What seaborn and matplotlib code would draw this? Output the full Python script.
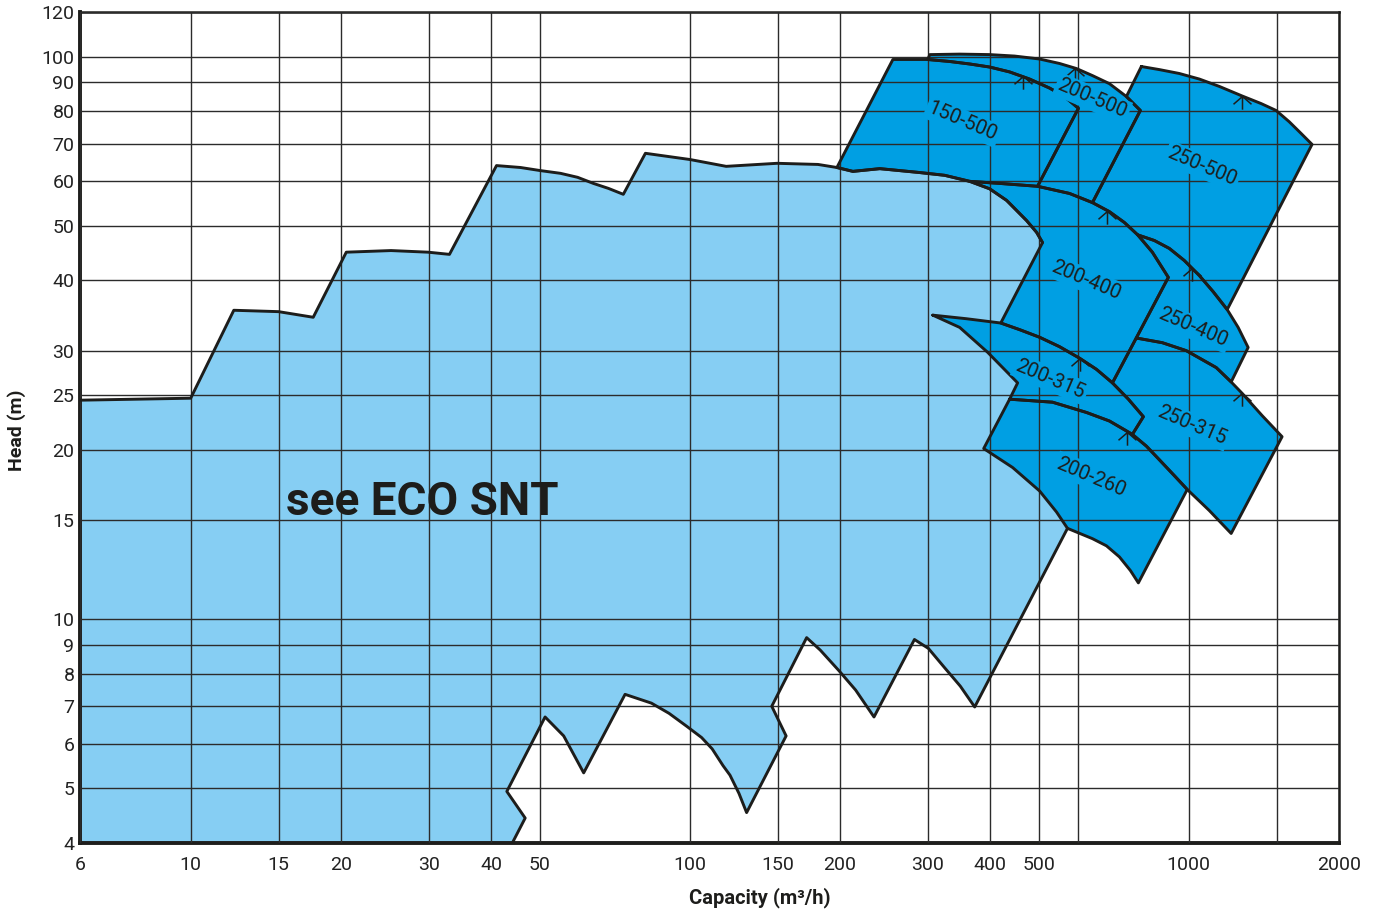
import matplotlib
matplotlib.use("Agg")
import matplotlib.pyplot as plt
from matplotlib.path import Path
from matplotlib.ticker import FixedLocator, FixedFormatter, NullFormatter, NullLocator
import seaborn as sns

# axis ticks / grid
x_ticks = [6, 10, 15, 20, 30, 40, 50, 100, 150, 200, 300, 400, 500, 1000, 2000]
x_extra_grid = [600, 1500]
y_ticks = [4, 5, 6, 7, 8, 9, 10, 15, 20, 25, 30, 40, 50, 60, 70, 80, 90, 100, 120]

# light blue area (see ECO SNT): top and bottom outline
eco_top_q = [6, 10, 12.2, 15.0, 17.6, 20.5, 25.2, 29.9, 33.0, 41.0, 45.8, 50.2, 55.1, 59.6, 64.1,
             68.7, 73.6, 81.5, 100.2, 118.3, 149.6, 180.7, 197.2, 212.3, 240.4, 289.1, 324.3, 364,
             399, 431.5, 473.2, 495.5, 509.3]
eco_top_h = [24.5, 24.7, 35.4, 35.2, 34.4, 44.9, 45.2, 44.9, 44.5, 64.0, 63.5, 62.7, 62.0, 61.0, 59.5,
             58.3, 56.9, 67.3, 65.6, 63.8, 64.6, 64.3, 63.5, 62.5, 63.2, 62.2, 61.5, 60.0,
             58.2, 55.5, 51.1, 48.7, 46.7]
eco_bot_q = [571.4, 372.4, 348.5, 324, 300.8, 282, 234, 215, 199, 182.6, 171.5, 146, 156, 130,
             125.5, 120.4, 116.6, 110.9, 105.6, 98.6, 90.9, 83.8, 74.2, 61.3, 55.9, 51.3, 43.0,
             46.8, 44.1]
eco_bot_h = [14.5, 6.98, 7.60, 8.2, 8.87, 9.2, 6.7, 7.48, 8.1, 8.81, 9.27, 7.0, 6.2, 4.53,
             4.90, 5.28, 5.49, 5.88, 6.16, 6.45, 6.80, 7.09, 7.35, 5.33, 6.20, 6.7, 4.94,
             4.43, 4.0]

# pump curves (capacity m3/h, head m)
top_150_500 = ([255.3, 299.9, 331.9, 363.9, 399, 437.5, 479.7, 526, 563.6, 601],
               [98.8, 98.8, 98.0, 97.0, 95.8, 93.9, 91.2, 87.9, 84.9, 80.9])
top_200_500 = ([302.7, 347.5, 399, 447.7, 502.3, 550.8, 595.7, 641.2, 693.4, 749.9, 799.8],
               [100.8, 101.0, 100.8, 100.2, 99.0, 97.2, 95.2, 92.5, 89.5, 84.9, 80.2])
top_250_500 = ([803.5, 873, 957.2, 1050, 1151, 1279, 1396, 1496, 1589, 1679, 1766],
               [96.0, 94.8, 93.3, 91.2, 88.5, 85.1, 82.5, 80.2, 76.6, 73.0, 69.8])
top_200_400 = ([364, 417.8, 497.7, 576.8, 641.2, 693.4, 743.0, 790, 845.3, 910],
               [60.0, 59.5, 58.8, 57.1, 55.0, 53.0, 50.7, 48.2, 44.9, 40.5])
top_250_400 = ([790, 853.1, 914.1, 979.5, 1050, 1119, 1194, 1256, 1315],
               [48.2, 47.1, 45.6, 43.4, 40.8, 38.2, 35.5, 33.0, 30.4])
top_200_315 = ([306.9, 358, 420, 458.2, 502.3, 550.8, 603.9, 653.1, 703.1, 756.8, 811],
               [34.7, 34.2, 33.6, 32.7, 31.7, 30.5, 29.1, 27.8, 26.3, 24.6, 22.9])
left_200_315 = ([306.9, 347.5, 395.4, 454], [34.7, 33.0, 29.8, 26.3])
top_250_315 = ([785, 885.1, 989, 1135, 1216, 1279, 1403, 1538],
               [31.6, 31.0, 30.0, 28.0, 26.4, 25.2, 23.0, 21.1])
top_200_260 = ([437.5, 533.3, 623.7, 693.4, 770.9, 822.4, 873, 935.4, 993],
               [24.6, 24.3, 23.3, 22.5, 21.3, 20.3, 19.2, 18.0, 17.0])
bot_200_260 = ([388.2, 443.6, 502.3, 543.3, 571.4, 641.2, 683.9, 726.1, 763.9, 792.5],
               [20.1, 18.6, 16.9, 15.5, 14.5, 13.9, 13.5, 12.9, 12.2, 11.6])
bot_250_315 = ([993, 1099, 1216], [17.0, 15.6, 14.2])

# best efficiency markers and pump size labels
bep_q = [464.5, 592.9, 1279, 687, 1016, 604, 1279, 753.5]
bep_h = [92.2, 95.3, 85.1, 53.2, 42.0, 29.1, 25.2, 21.5]
pump_names = ["150-500", "200-500", "250-500", "200-400", "250-400", "200-315", "250-315", "200-260"]
label_q = [352.4, 641.2, 1064, 623.7, 1021, 528.4, 1016, 638.3]
label_h = [76.6, 84.2, 63.8, 40.0, 33.0, 26.7, 22.1, 17.9]

LIGHT = "#86CEF3"
DARK = "#009FE3"
INK = "#1d1d1b"


def part(curve, qa, qb):
    # points of a curve between qa and qb, in the direction qa -> qb
    pts = [(q, h) for q, h in zip(*curve) if min(qa, qb) <= q <= max(qa, qb)]
    return pts if qa <= qb else pts[::-1]


def pts(curve):
    return list(zip(*curve))


eco_top = (eco_top_q, eco_top_h)

tiles = [
    part(eco_top, 197.2, 197.2) + pts(top_150_500) + part(top_200_400, 497.7, 364) + part(eco_top, 364, 212.3),
    [(299.9, 98.8)] + pts(top_200_500) + part(top_200_400, 641.2, 497.7) + part(top_150_500, 601, 300),
    pts(top_250_500) + part(top_250_400, 1194, 790) + part(top_200_400, 790, 641.2) + part(top_200_500, 799.8, 749.9),
    pts(top_200_400) + part(top_200_315, 703.1, 420) + part(eco_top, 509.3, 364),
    pts(top_250_400) + part(top_250_315, 1216, 785) + part(top_200_400, 910, 845.3),
    pts(top_200_315) + part(top_200_260, 770.9, 437.5) + part(left_200_315, 454, 347.5),
    pts(top_200_260) + part(bot_200_260, 792.5, 388.2),
    pts(top_250_315) + part(bot_250_315, 1216, 993) + part(top_200_260, 873, 770.9) + part(top_200_315, 811, 703.1),
]

sns.set_theme(style="white")
plt.rcParams["font.family"] = ["Roboto", "DejaVu Sans"]

fig = plt.figure(figsize=(13.81, 9.14), dpi=100)
ax = fig.add_axes([80 / 1381, 71 / 914, 1259 / 1381, 831 / 914])
ax.set_xscale("log")
ax.set_yscale("log")
ax.set_xlim(6, 2000)
ax.set_ylim(4, 120)

# light blue region
ax.fill([6] + eco_top_q + eco_bot_q, [4] + eco_top_h + eco_bot_h, color=LIGHT, lw=0, zorder=1)
sns.lineplot(x=eco_top_q, y=eco_top_h, sort=False, estimator=None, color=INK, lw=2.1, zorder=3, ax=ax)
sns.lineplot(x=eco_bot_q, y=eco_bot_h, sort=False, estimator=None, color=INK, lw=2.1, zorder=3, ax=ax)

# dark pump tiles
for tile in tiles:
    q = [p[0] for p in tile]
    h = [p[1] for p in tile]
    ax.fill(q, h, color=DARK, lw=0, zorder=1.2)
    sns.lineplot(x=q + [q[0]], y=h + [h[0]], sort=False, estimator=None, color=INK, lw=2.1,
                 zorder=3, ax=ax)

arrow = Path([(-0.75, -0.65), (0, 0), (0.75, -0.65), (0, 0), (0, -1.1)],
             [Path.MOVETO, Path.LINETO, Path.LINETO, Path.MOVETO, Path.LINETO])
ax.plot(bep_q, bep_h, ls="none", marker=arrow, ms=19, mfc="none", mec=INK, mew=1.1, zorder=3.5)

for name, q, h in zip(pump_names, label_q, label_h):
    ax.text(q, h, name, rotation=-23, rotation_mode="anchor", ha="center", va="center",
            fontsize=14.5, color=INK, zorder=4,
            bbox=dict(boxstyle="square,pad=0.12", fc=DARK, ec="none"))

ax.text(15.5, 15.3, "see ECO SNT", fontsize=33, fontweight="bold", ha="left", va="baseline",
        color=INK, zorder=4)

# axes, ticks, grid
ax.xaxis.set_major_locator(FixedLocator(x_ticks))
ax.xaxis.set_major_formatter(FixedFormatter([str(v) for v in x_ticks]))
ax.xaxis.set_minor_locator(FixedLocator(x_extra_grid))
ax.xaxis.set_minor_formatter(NullFormatter())
ax.yaxis.set_major_locator(FixedLocator(y_ticks))
ax.yaxis.set_major_formatter(FixedFormatter([str(v) for v in y_ticks]))
ax.yaxis.set_minor_locator(NullLocator())
ax.grid(True, which="both", color="#2b2b2b", lw=1.0)
ax.set_axisbelow(False)
ax.tick_params(which="both", length=0, labelsize=14, labelcolor="#222222")
ax.tick_params(axis="x", pad=9)
ax.tick_params(axis="y", pad=4)
for side, sp in ax.spines.items():
    sp.set_color(INK)
    sp.set_linewidth(2.8 if side in ("left", "bottom") else 1.8)
    sp.set_visible(True)
ax.set_xlabel("")
ax.set_ylabel("")

fig.text(17 / 1381, 1 - 430 / 914, "Head (m)", rotation=90, ha="center", va="center",
         fontsize=14, fontweight="bold", color=INK)
fig.text(760 / 1381, 1 - 898 / 914, "Capacity (m³/h)", ha="center", va="center",
         fontsize=14.5, fontweight="bold", color=INK)

fig.savefig("out.png", dpi=100)
